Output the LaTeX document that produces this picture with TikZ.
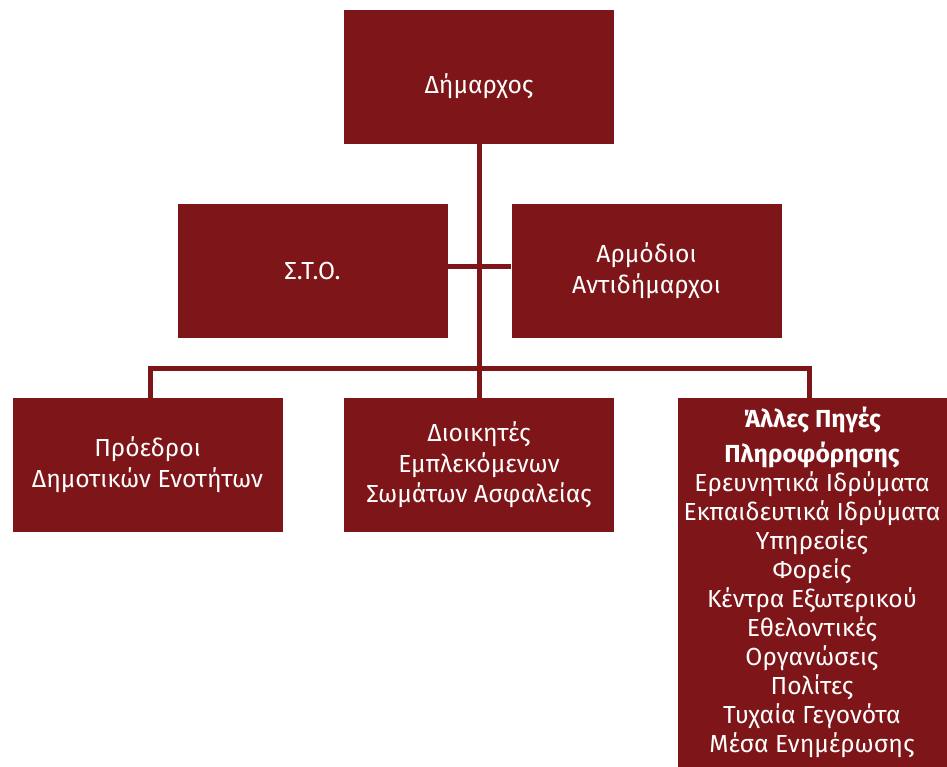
\documentclass[tikz,border=0pt]{standalone}
\usepackage{fontspec}
\setmainfont{Fira Sans}
\usetikzlibrary{positioning}
\definecolor{boxred}{HTML}{7E1518}
\tikzset{
    orgbox/.style={fill=boxred, text=white, align=center, inner sep=0pt,
        minimum width=202.5pt, minimum height=100.5pt,
        font=\fontsize{18.5}{23}\selectfont},
    orgline/.style={draw=boxred, line width=3.75pt},
}

\begin{document}
\begin{tikzpicture}[x=0.75pt, y=-0.75pt]
    \useasboundingbox (0,0) rectangle (947,767);
    \coordinate (posMayor) at (479,77);
    \coordinate (posSto) at (312.5,271);
    \coordinate (posDeputy) at (646.5,271);
    \coordinate (posPresid) at (147.5,465);
    \coordinate (posComm) at (479,465);
    \coordinate (posOther) at (812,582.5);
    \coordinate (branchTop) at (479,266);
    \coordinate (branchLow) at (479,368);
    %
    \node[orgbox] at (posMayor) (mayor) {};
    \node[white, font=\fontsize{18.5}{23}\selectfont] at ([yshift=-7pt]mayor.center) (mayorText) {Δήμαρχος};
    \node[orgbox] at (posSto) (sto) {Σ.Τ.Ο.};
    \node[orgbox] at (posDeputy) (deputy) {Αρμόδιοι\\Αντιδήμαρχοι};
    \node[orgbox] at (posPresid) (presid) {Πρόεδροι\\Δημοτικών Ενοτήτων};
    \node[orgbox] at (posComm) (comm) {Διοικητές\\Εμπλεκόμενων\\Σωμάτων Ασφαλείας};
    \node[orgbox, minimum width=201.75pt, minimum height=276.75pt, font=\fontsize{18.5}{21.75}\selectfont] at (posOther) (other)
        {\textbf{Άλλες Πηγές}\\[4pt]\textbf{Πληροφόρησης}\\Ερευνητικά Ιδρύματα\\Εκπαιδευτικά Ιδρύματα\\Υπηρεσίες\\Φορείς\\Κέντρα Εξωτερικού\\Εθελοντικές\\Οργανώσεις\\Πολίτες\\Τυχαία Γεγονότα\\Μέσα Ενημέρωσης};
    %
    \draw[orgline] (mayor.south) -- (comm.north);
    \draw[orgline] (branchTop -| sto.east) -- (branchTop -| deputy.west);
    \draw[orgline] ([xshift=1.9pt]presid.north) |- (branchLow) -| ([xshift=-2.25pt]other.north);
\end{tikzpicture}
\end{document}
